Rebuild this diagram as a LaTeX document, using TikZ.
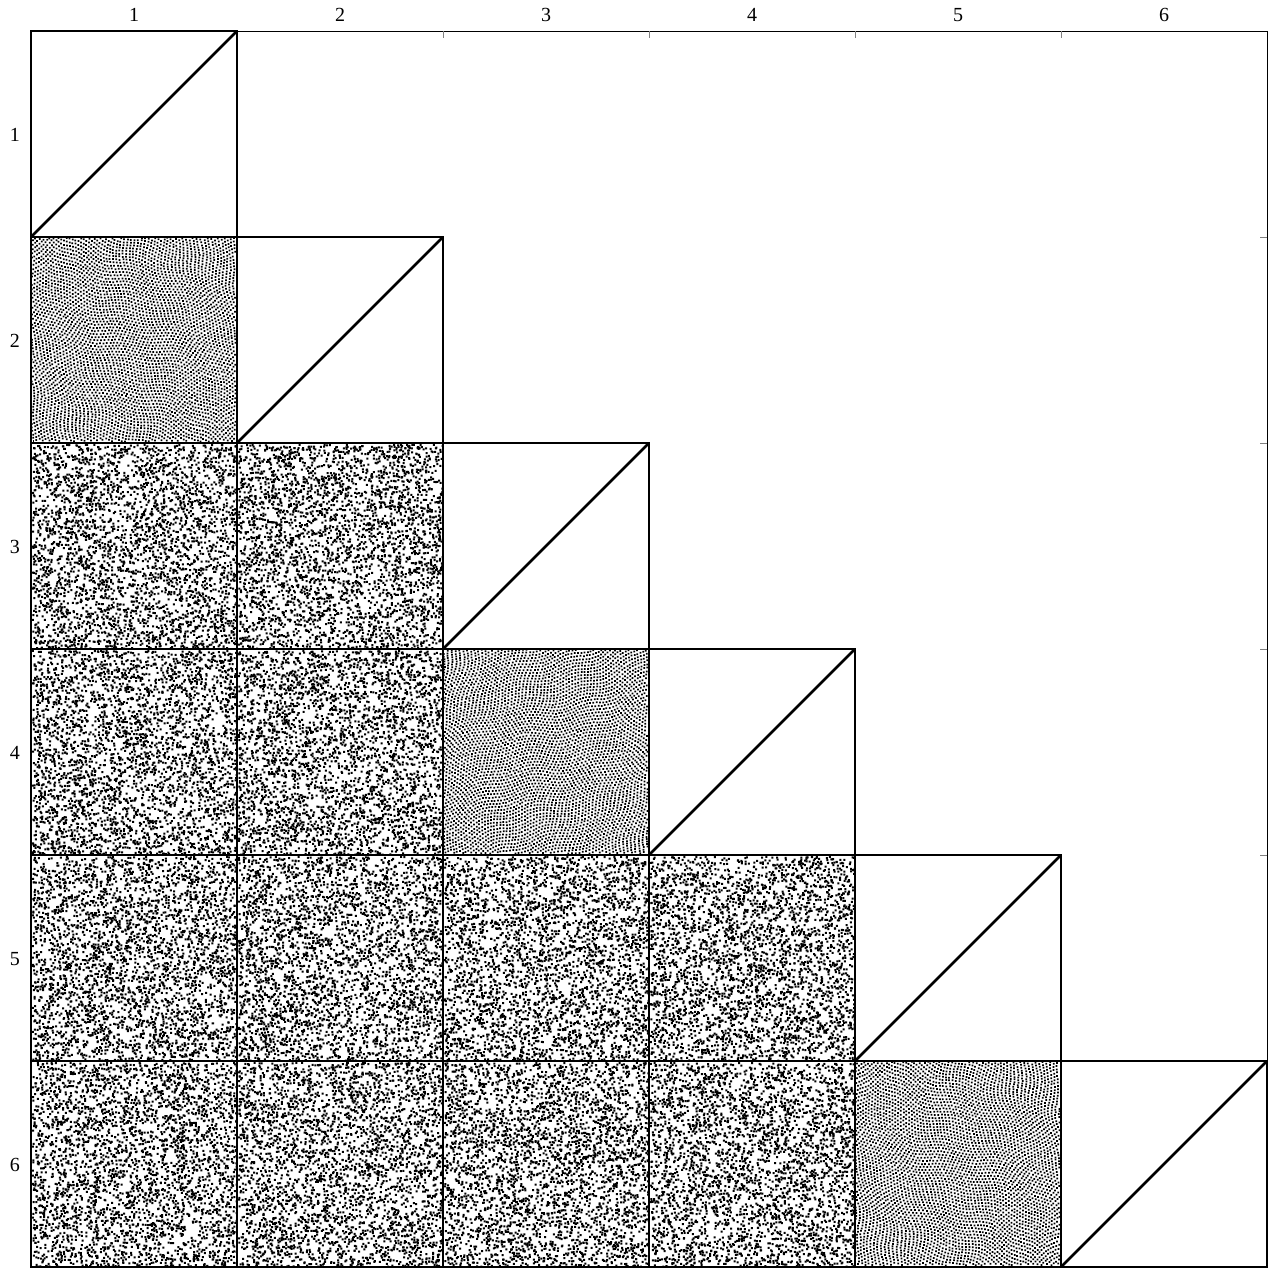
\documentclass[tikz,border=0pt]{standalone}
\usepackage{fontspec}
\setmainfont{Liberation Serif}
\tikzset{
  x=0.5pt, y=-0.5pt,
  frameline/.style={draw=black, line width=0.4pt},
  tickline/.style={draw=black!50, line width=0.35pt},
  cellline/.style={draw=black, line width=0.6pt},
  diagline/.style={draw=black, line width=1.3pt}
}
\setrandomseed 4711
% body po davkach primo do PDF, jinak dojde pamet (jednotka 0.25 px od rohu bunky, y dolu)
\makeatletter
\newcommand{\flushdots}[2]{%
  \pgfmathsetmacro{\tx}{#1*0.49813}%
  \pgfmathsetmacro{\ty}{-#2*0.49813}%
  \pgfsys@invoke{q 0.124533 0 0 -0.124533 \tx\space\ty\space cm \dotbatch f Q }%
}
\makeatother
\newcommand{\randomcell}[2]{%
  \foreach \b in {1,...,36}{%
    \gdef\dotbatch{}%
    \foreach \n in {1,...,100}{%
      \xdef\dotbatch{\dotbatch\the\numexpr\uniformdeviate816\relax\space\the\numexpr\uniformdeviate816\relax\space8 8 re }%
    }%
    \flushdots{#1}{#2}%
  }%
}
% mrizka stocena kolem stredu bunky a zvlnena, #3 = stupne na px
\newcommand{\swirlcell}[3]{%
  \foreach \i in {-49,...,49}{%
    \gdef\dotbatch{}%
    \foreach \j in {-44,...,44}{%
      \pgfmathsetmacro{\gx}{3.45*(\j+0.5*mod(\i+50,2))}%
      \pgfmathsetmacro{\gy}{2.988*\i}%
      \pgfmathsetmacro{\hx}{\gx+2.2*sin(\gy*6)+0.7*rnd-0.35}%
      \pgfmathsetmacro{\hy}{\gy+2.2*sin(\gx*6)+0.7*rnd-0.35}%
      \pgfmathsetmacro{\ang}{veclen(\hx,\hy)*#3}%
      \pgfmathsetmacro{\dotx}{\hx*cos(\ang)-\hy*sin(\ang)}%
      \pgfmathsetmacro{\doty}{\hx*sin(\ang)+\hy*cos(\ang)}%
      \ifdim\dotx pt<102pt\ifdim\dotx pt>-102pt\ifdim\doty pt<102pt\ifdim\doty pt>-102pt
        \pgfmathtruncatemacro{\px}{(102+\dotx)*4}%
        \pgfmathtruncatemacro{\py}{(102+\doty)*4}%
        \xdef\dotbatch{\dotbatch\px\space\py\space7 7 re }%
      \fi\fi\fi\fi
    }%
    \flushdots{#1}{#2}%
  }%
}
\begin{document}
\begin{tikzpicture}
  \useasboundingbox (0,0) rectangle (1270,1268);
  % punkty
  \swirlcell{31}{237}{0.16}
  \swirlcell{443}{649}{-0.14}
  \swirlcell{855}{1061}{0.18}
  \foreach \c/\r in {0/2,1/2,0/3,1/3,0/4,1/4,2/4,3/4,0/5,1/5,2/5,3/5}{
    \pgfmathtruncatemacro{\cellx}{\c*206+32}
    \pgfmathtruncatemacro{\celly}{\r*206+32}
    \randomcell{\cellx}{\celly}
  }
  % ramka a znacky
  \draw[frameline] (31,31) -- (1267,31) -- (1267,1267);
  \foreach \k in {1,...,5}{
    \draw[tickline] (31+\k*206,31) -- ++(0,7);
    \draw[tickline] (1267,31+\k*206) -- ++(-7,0);
  }
  % bunky
  \foreach \r in {0,...,5}{
    \foreach \c in {0,...,\r}{
      \draw[cellline] (\c*206+31,\r*206+31) rectangle ++(206,206);
    }
    \draw[diagline] (\r*206+31,\r*206+237) -- ++(206,-206);
  }
  % popisky
  \foreach \k in {1,...,6}{
    \node (top\k) at (\k*206-72,15) {\k};
    \node (left\k) at (15,\k*206-71) {\k};
  }
\end{tikzpicture}
\end{document}
